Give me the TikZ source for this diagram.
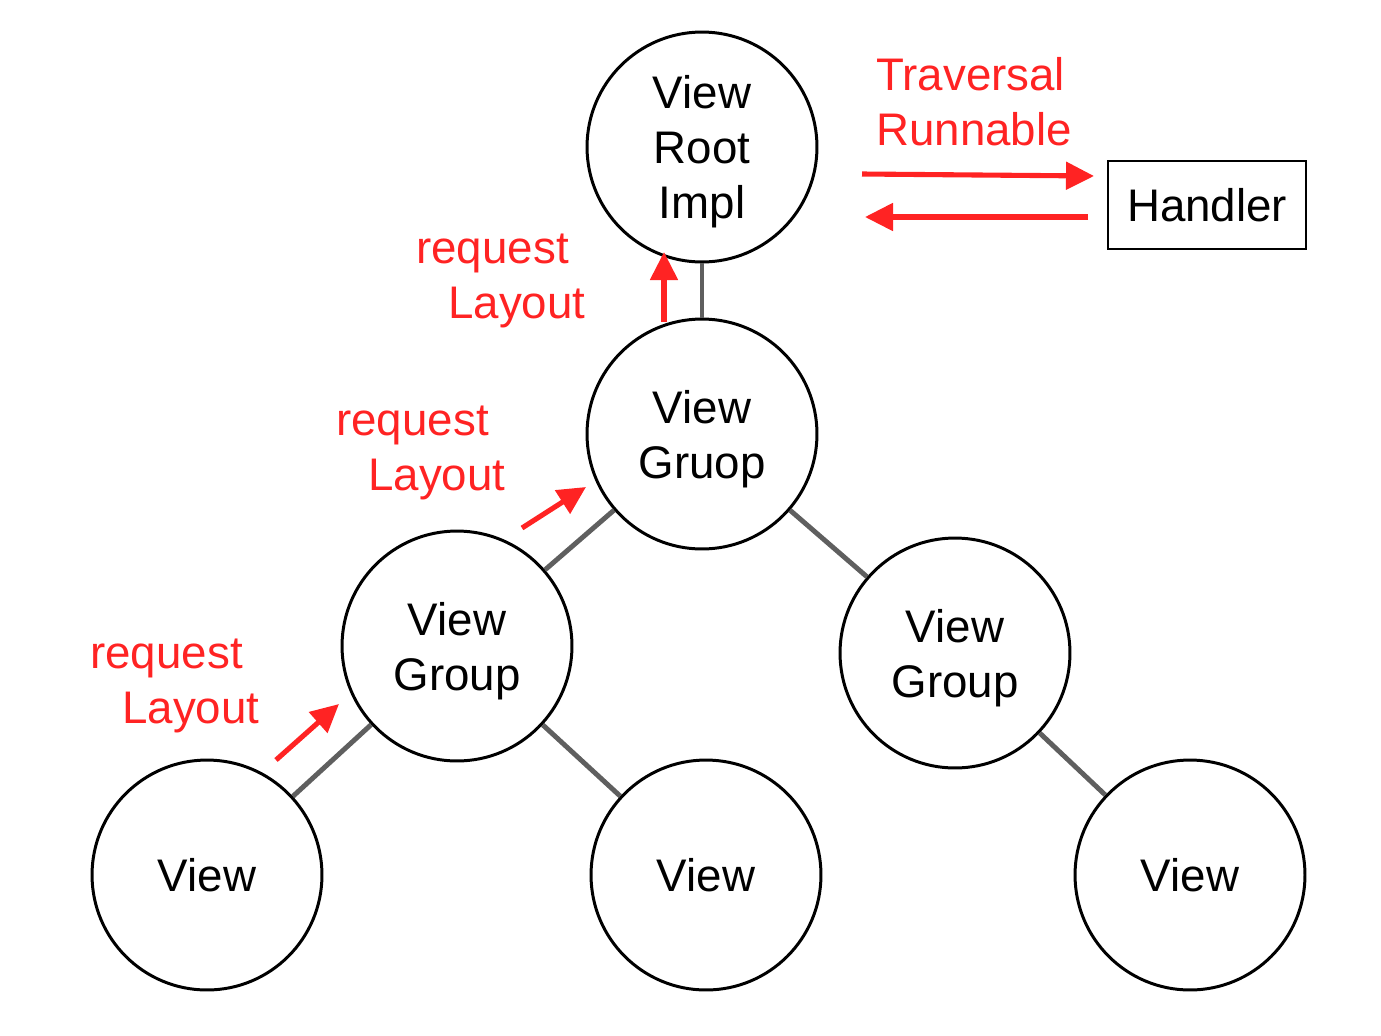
\documentclass[tikz,border=0pt]{standalone}
\usepackage{fontspec}
\setmainfont{Liberation Sans}
\usetikzlibrary{arrows.meta}
\definecolor{callred}{RGB}{255,35,35}
\definecolor{linkgray}{RGB}{95,95,95}
\tikzset{
  view/.style={draw, circle, line width=1.7pt, minimum size=4.6cm, align=center, inner sep=0pt, text depth=0pt},
  link/.style={draw=linkgray, line width=2.8pt},
  call/.style={draw=callred, line width=2.9pt, -{Triangle[length=0.56cm, width=0.54cm]}},
  note/.style={text=callred, align=left, inner sep=0pt, anchor=west},
}
\begin{document}
\begin{tikzpicture}[x=0.02cm, y=-0.02cm, font=\fontsize{26}{31.3}\selectfont]
\useasboundingbox (0,0) rectangle (1381,1035);
% tree of views
\node[view] (root) at (702,147) {View\\Root\\Impl};
\node[view] (vg) at (702,434) {View\\Gruop};
\node[view] (lvg) at (457,646) {View\\Group};
\node[view] (rvg) at (955,653) {View\\Group};
\node[view] (lv) at (207,875) {View};
\node[view] (mv) at (706,875) {View};
\node[view] (rv) at (1190,875) {View};
\node[draw, line width=1.4pt, minimum width=3.96cm, minimum height=1.76cm] (handler) at (1207,205) {Handler};
\draw[link] (root) -- (vg);
\draw[link] (vg) -- (lvg);
\draw[link] (vg) -- (rvg);
\draw[link] (lvg) -- (lv);
\draw[link] (lvg) -- (mv);
\draw[link] (rvg) -- (rv);
% requestLayout calls going up
\coordinate (up1a) at (664,322);
\coordinate (up1b) at (664,252);
\coordinate (up2a) at (522,528);
\coordinate (up2b) at (586,487);
\coordinate (up3a) at (276,760);
\coordinate (up3b) at (339,704);
\draw[call] (up1a) -- (up1b);
\draw[call] (up2a) -- (up2b);
\draw[call] (up3a) -- (up3b);
\node[note] (req1) at (416,281) {request\\\hspace*{0.7em}Layout};
\node[note] (req2) at (336,453) {request\\\hspace*{0.7em}Layout};
\node[note] (req3) at (90,686) {request\\\hspace*{0.7em}Layout};
% post to handler and back
\coordinate (postA) at (862,174);
\coordinate (postB) at (1094,176);
\coordinate (backA) at (1088,217);
\coordinate (backB) at (865,217);
\draw[call] (postA) -- (postB);
\draw[call] (backA) -- (backB);
\node[note] (trav) at (876,102) {Traversal\\Runnable};
\end{tikzpicture}
\end{document}
